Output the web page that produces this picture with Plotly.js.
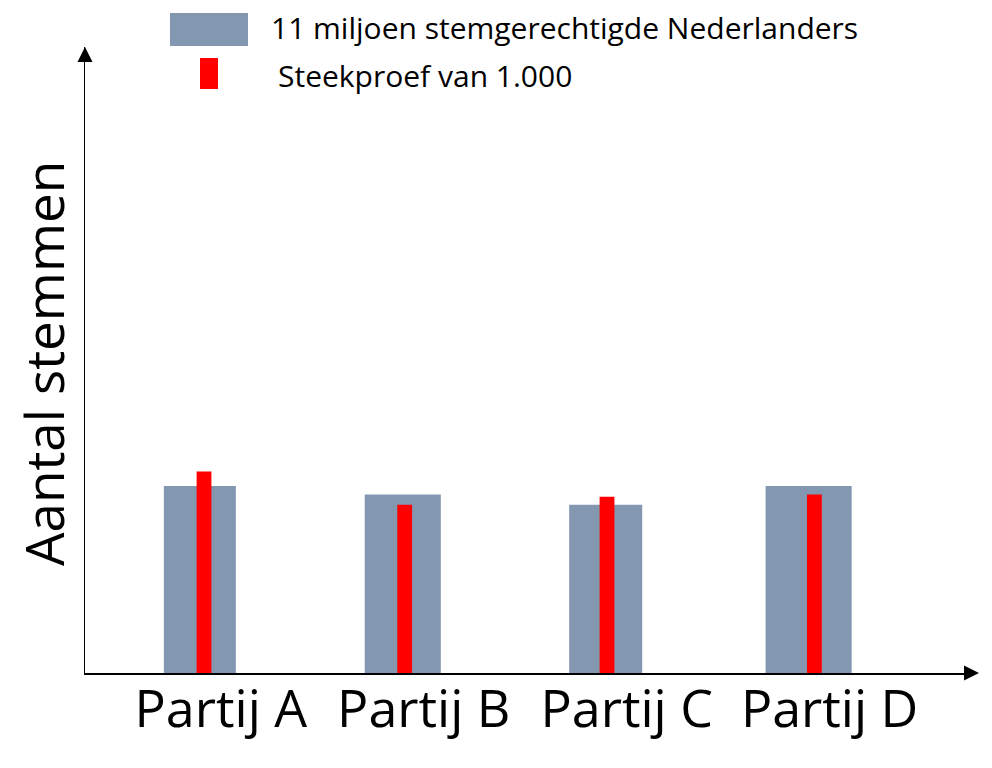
<!DOCTYPE html>
<html>
<head>
<meta charset="utf-8">
<script src="https://cdn.plot.ly/plotly-3.0.1.min.js"></script>
<style>html,body{margin:0;padding:0;background:#fff;}#chart{width:992px;height:768px;}</style>
</head>
<body>
<div id="chart"></div>
<script>
// ---- data ----
var categories = ["Partij A", "Partij B", "Partij C", "Partij D"];
var populatie = [26.0, 24.8, 23.4, 26.0];      // 11 miljoen stemgerechtigde Nederlanders
var steekproef = [28.0, 23.4, 24.5, 24.8];     // Steekproef van 1.000
var legendLabels = ["11 miljoen stemgerechtigde Nederlanders", "Steekproef van 1.000"];
var yTitle = "Aantal stemmen";

// ---- layout helpers (pixel -> paper) ----
var W = 992, H = 768, L = 85, R = 17, T = 47, B = 95;
var PW = W - L - R, PH = H - T - B;
function px(x) { return (x - L) / PW; }
function py(y) { return (H - B - y) / PH; }

var FONT = "'Open Sans', 'DejaVu Sans', sans-serif";
var GRAY = "#8497B0", RED = "#FF0000";

var traces = [
  {
    type: "bar", x: categories, y: populatie, name: legendLabels[0],
    marker: {color: GRAY, line: {width: 0}},
    width: [0.355, 0.375, 0.36, 0.424], hoverinfo: "skip"
  },
  {
    type: "bar", x: categories, y: steekproef, name: legendLabels[1],
    marker: {color: RED, line: {width: 0}},
    width: 0.073, offset: [-0.016, -0.027, -0.03, -0.008], hoverinfo: "skip"
  }
];

var layout = {
  width: W, height: H,
  margin: {l: L, r: R, t: T, b: B, pad: 0},
  paper_bgcolor: "#fff", plot_bgcolor: "#fff",
  barmode: "overlay",
  showlegend: false,
  font: {family: FONT, color: "#000"},
  xaxis: {
    type: "category", range: [-0.566, 3.82],
    showline: true, linecolor: "#000", linewidth: 1.5,
    showgrid: false, zeroline: false, ticks: "",
    tickfont: {family: FONT, size: 52, color: "#000"},
    ticklabelshift: 21, ticklabelstandoff: -10
  },
  yaxis: {
    range: [0, 87],
    showline: true, linecolor: "#000", linewidth: 1.5,
    showgrid: false, zeroline: false, showticklabels: false, ticks: ""
  },
  shapes: [
    {type: "rect", xref: "paper", yref: "paper", x0: px(170), x1: px(248), y0: py(46), y1: py(13),
     fillcolor: GRAY, line: {width: 0}},
    {type: "rect", xref: "paper", yref: "paper", x0: px(200), x1: px(218), y0: py(89), y1: py(58),
     fillcolor: RED, line: {width: 0}}
  ],
  annotations: [
    {xref: "paper", yref: "paper", x: px(269), y: py(28), xanchor: "left", yanchor: "middle",
     text: legendLabels[0], showarrow: false, font: {family: FONT, size: 30, color: "#000"}},
    {xref: "paper", yref: "paper", x: px(276), y: py(75), xanchor: "left", yanchor: "middle",
     text: legendLabels[1], showarrow: false, font: {family: FONT, size: 30, color: "#000"}},
    {xref: "paper", yref: "paper", x: px(43), y: py(364), xanchor: "center", yanchor: "middle",
     text: yTitle, textangle: -90, showarrow: false, font: {family: FONT, size: 53, color: "#000"}},
    // axis arrowheads
    {xref: "paper", yref: "paper", x: 0, y: 1, ax: 0, ay: 14, axref: "pixel", ayref: "pixel",
     text: "", showarrow: true, arrowhead: 2, arrowsize: 2, arrowwidth: 1.5, arrowcolor: "#000", standoff: 0},
    {xref: "paper", yref: "paper", x: px(979), y: 0, ax: -14, ay: 0, axref: "pixel", ayref: "pixel",
     text: "", showarrow: true, arrowhead: 2, arrowsize: 2, arrowwidth: 1.5, arrowcolor: "#000", standoff: 0}
  ]
};

Plotly.newPlot("chart", traces, layout, {staticPlot: true, displayModeBar: false});
</script>
</body>
</html>
